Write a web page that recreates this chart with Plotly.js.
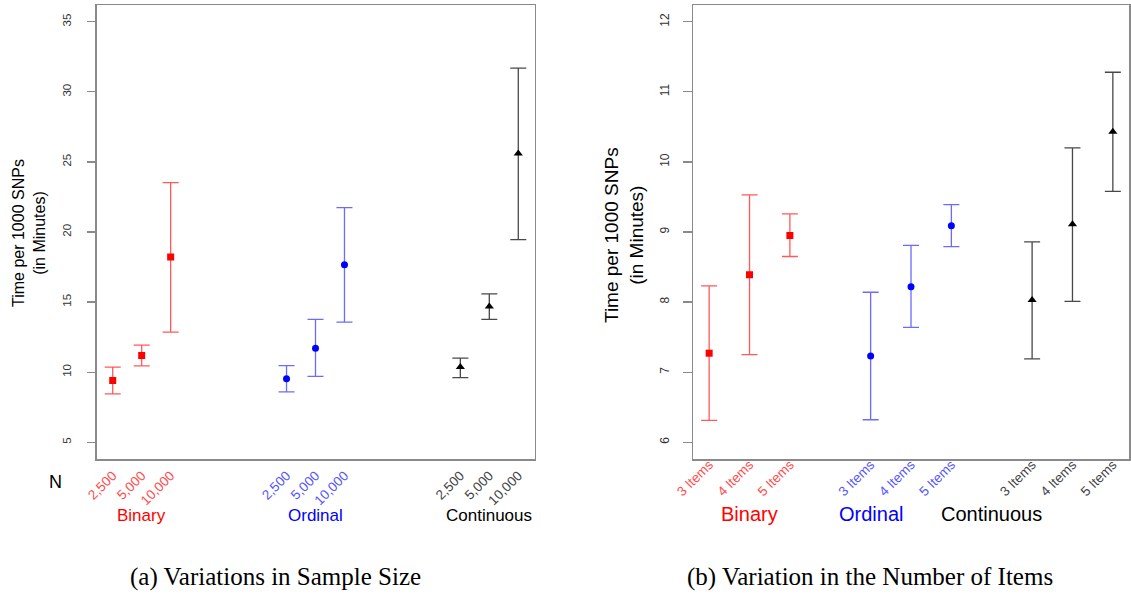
<!DOCTYPE html>
<html>
<head>
<meta charset="utf-8">
<script src="https://cdn.plot.ly/plotly-3.0.1.min.js"></script>
<style>html,body{margin:0;padding:0;background:#fff;}#chart{width:1131px;height:595px;}</style>
</head>
<body>
<div id="chart"></div>
<script>
// ---------- data: (a) Variations in Sample Size ----------
const groups = ["Binary", "Ordinal", "Continuous"];
const sampleSizeLabels = ["2,500", "5,000", "10,000"];
const binaryMeanA  = [9.40, 11.19, 18.21];
const binaryUpperA = [10.36, 11.93, 23.53];
const binaryLowerA = [8.45, 10.45, 12.86];
const ordinalMeanA  = [9.52, 11.71, 17.67];
const ordinalUpperA = [10.47, 13.76, 21.74];
const ordinalLowerA = [8.59, 9.69, 13.57];
const contMeanA  = [10.36, 14.69, 25.60];
const contUpperA = [11.00, 15.59, 31.69];
const contLowerA = [9.61, 13.76, 19.46];
const yTicksA = [5, 10, 15, 20, 25, 30, 35];

// ---------- data: (b) Variation in the Number of Items ----------
const itemLabels = ["3 Items", "4 Items", "5 Items"];
const binaryMeanB  = [7.27, 8.39, 8.95];
const binaryUpperB = [8.23, 9.53, 9.26];
const binaryLowerB = [6.31, 7.25, 8.65];
const ordinalMeanB  = [7.23, 8.22, 9.09];
const ordinalUpperB = [8.14, 8.81, 9.39];
const ordinalLowerB = [6.32, 7.64, 8.79];
const contMeanB  = [8.03, 9.11, 10.43];
const contUpperB = [8.86, 10.20, 11.28];
const contLowerB = [7.19, 8.01, 9.58];
const yTicksB = [6, 7, 8, 9, 10, 11, 12];

// ---------- styling ----------
const W = 1131, H = 595;
const SANS = "Liberation Sans, Arial, sans-serif";
const SERIF = "Liberation Serif, Times New Roman, serif";
const markerCol = ["#ff0000", "#0000ff", "#000000"];
const barCol = ["rgba(255,60,60,0.85)", "rgba(70,70,255,0.8)", "rgba(40,40,40,0.85)"];
const tickCol = ["#ff4c4c", "#5555ff", "#444444"];
const symbols = ["square", "circle", "triangle-up"];
const msize = [7, 7, 8];

const groupGapA = 6, groupGapB = 4;

function px(x) { return x / W; }
function py(y) { return (H - y) / H; }

function makeTrace(mean, up, lo, g, gap, xa, ya) {
  const x = mean.map((_, i) => 1 + g * gap + i);
  return {
    type: "scatter", mode: "markers", x: x, y: mean, xaxis: xa, yaxis: ya,
    marker: { symbol: symbols[g], size: msize[g], color: markerCol[g] },
    error_y: {
      type: "data", symmetric: false,
      array: up.map((v, i) => v - mean[i]),
      arrayminus: lo.map((v, i) => mean[i] - v),
      color: barCol[g], thickness: 1.3, width: 8
    },
    showlegend: false, hoverinfo: "x+y"
  };
}

const traces = [
  makeTrace(binaryMeanA, binaryUpperA, binaryLowerA, 0, groupGapA, "x", "y"),
  makeTrace(ordinalMeanA, ordinalUpperA, ordinalLowerA, 1, groupGapA, "x", "y"),
  makeTrace(contMeanA, contUpperA, contLowerA, 2, groupGapA, "x", "y"),
  makeTrace(binaryMeanB, binaryUpperB, binaryLowerB, 0, groupGapB, "x2", "y2"),
  makeTrace(ordinalMeanB, ordinalUpperB, ordinalLowerB, 1, groupGapB, "x2", "y2"),
  makeTrace(contMeanB, contUpperB, contLowerB, 2, groupGapB, "x2", "y2")
];

function tickSet(labels, gap) {
  const vals = [], text = [];
  groups.forEach((_, g) => labels.forEach((lab, i) => {
    vals.push(1 + g * gap + i);
    text.push('<span style="color:' + tickCol[g] + '">' + lab + '</span>');
  }));
  return { vals, text };
}
const tA = tickSet(sampleSizeLabels, groupGapA);
const tB = tickSet(itemLabels, groupGapB);

const frame = "#8a8a8a";
const yDomain = [py(459), py(5)];

const layout = {
  width: W, height: H,
  margin: { l: 0, r: 0, t: 0, b: 0 },
  paper_bgcolor: "#ffffff", plot_bgcolor: "#ffffff",
  showlegend: false,
  xaxis: {
    domain: [px(96.5), px(534.5)], range: [0.44, 15.56],
    tickvals: tA.vals, ticktext: tA.text, tickangle: -45,
    tickfont: { family: SANS, size: 13.5 },
    ticks: "", ticklabelstandoff: 2,
    showgrid: false, zeroline: false,
    showline: true, mirror: true, linecolor: frame, linewidth: 1.5,
    anchor: "y", fixedrange: true
  },
  yaxis: {
    domain: yDomain, range: [3.8, 36.2],
    tickvals: yTicksA, tickangle: -90,
    tickfont: { family: SANS, size: 11.5, color: "#333" },
    ticks: "outside", ticklen: 8, tickcolor: frame, tickwidth: 1.2,
    ticklabelstandoff: 11,
    showgrid: false, zeroline: false,
    showline: true, mirror: true, linecolor: frame, linewidth: 1.5,
    anchor: "x", fixedrange: true
  },
  xaxis2: {
    domain: [px(693), px(1129)], range: [0.6, 11.4],
    tickvals: tB.vals, ticktext: tB.text, tickangle: -45,
    tickfont: { family: SANS, size: 13.5 },
    ticks: "", ticklabelstandoff: -9,
    showgrid: false, zeroline: false,
    showline: true, mirror: true, linecolor: frame, linewidth: 1.5,
    anchor: "y2", fixedrange: true
  },
  yaxis2: {
    domain: yDomain, range: [5.76, 12.24],
    tickvals: yTicksB, tickangle: -90,
    tickfont: { family: SANS, size: 12, color: "#333" },
    ticks: "outside", ticklen: 9, tickcolor: frame, tickwidth: 1.2,
    ticklabelstandoff: 9,
    showgrid: false, zeroline: false,
    showline: true, mirror: true, linecolor: frame, linewidth: 1.5,
    anchor: "x2", fixedrange: true
  },
  annotations: []
};

// group labels
const grpPosA = [2, 8, 14];
const grpPosB = [2, 5, 8];
groups.forEach((g, i) => {
  layout.annotations.push({
    text: g, xref: "x", yref: "paper", x: grpPosA[i], y: py(515),
    xanchor: "center", yanchor: "middle", showarrow: false,
    font: { family: SANS, size: 17, color: markerCol[i] }
  });
  layout.annotations.push({
    text: g, xref: "x2", yref: "paper", x: grpPosB[i], y: py(514),
    xanchor: "center", yanchor: "middle", showarrow: false,
    font: { family: SANS, size: 20, color: markerCol[i] }
  });
});

// N label
layout.annotations.push({
  text: "N", xref: "paper", yref: "paper", x: px(55), y: py(482),
  xanchor: "center", yanchor: "middle", showarrow: false,
  font: { family: SANS, size: 18, color: "#000" }
});

// y titles
layout.annotations.push({
  text: "Time per 1000 SNPs<br>(in Minutes)", xref: "paper", yref: "paper",
  x: px(29), y: py(233), xanchor: "center", yanchor: "middle", textangle: -90,
  showarrow: false, font: { family: SANS, size: 16, color: "#000" }
});
layout.annotations.push({
  text: "Time per 1000 SNPs<br>(in Minutes)", xref: "paper", yref: "paper",
  x: px(624), y: py(235), xanchor: "center", yanchor: "middle", textangle: -90,
  showarrow: false, font: { family: SANS, size: 19, color: "#000" }
});

// captions
layout.annotations.push({
  text: "(a) Variations in Sample Size", xref: "paper", yref: "paper",
  x: px(275), y: py(577), xanchor: "center", yanchor: "middle",
  showarrow: false, font: { family: SERIF, size: 25, color: "#000" }
});
layout.annotations.push({
  text: "(b) Variation in the Number of Items", xref: "paper", yref: "paper",
  x: px(870), y: py(577), xanchor: "center", yanchor: "middle",
  showarrow: false, font: { family: SERIF, size: 25, color: "#000" }
});

Plotly.newPlot("chart", traces, layout, { displayModeBar: false, staticPlot: true });
</script>
</body>
</html>
